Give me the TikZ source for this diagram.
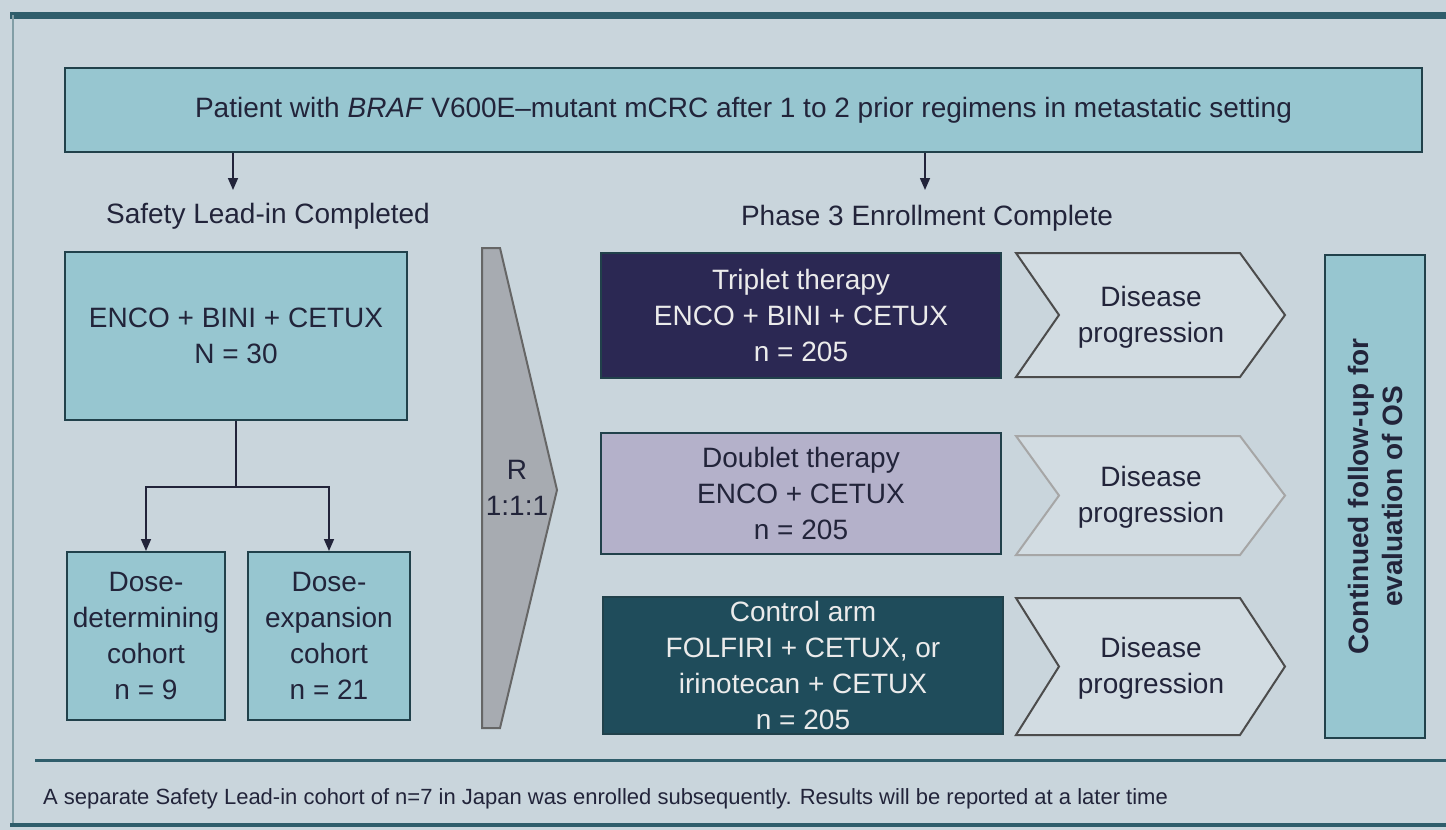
\documentclass[tikz,border=0pt]{standalone}
\usepackage{fontspec}
\setmainfont{Liberation Sans}
\usetikzlibrary{arrows.meta}

\definecolor{slidebg}{HTML}{C9D5DC}
\definecolor{framecol}{HTML}{2F5D6B}
\definecolor{tealbox}{HTML}{97C6D0}
\definecolor{tripcol}{HTML}{2B2853}
\definecolor{doubcol}{HTML}{B4B1CA}
\definecolor{ctrlcol}{HTML}{1F4C5B}
\definecolor{rcol}{HTML}{A7ABB1}
\definecolor{txtcol}{HTML}{22243A}
\definecolor{progcol}{HTML}{D2DCE2}

\tikzset{
  box/.style={draw=framecol!70!black, line width=1pt, fill=tealbox, text=txtcol,
    align=center, inner sep=2pt, font=\fontsize{14}{18}\selectfont},
  arm/.style={box, minimum width=200pt},
  lbl/.style={text=txtcol, font=\fontsize{14}{18}\selectfont, align=center},
  arr/.style={draw=txtcol, line width=0.8pt, -{Triangle[length=6pt,width=5pt]}},
  chev/.style={draw=black!70, line width=1pt, fill=progcol},
}

\begin{document}
\begin{tikzpicture}[x=0.5pt, y=-0.5pt]
    % slide background and frame
    \fill[slidebg] (0,0) rectangle (1446,830);
    \useasboundingbox (0,0) rectangle (1446,830);
    \draw[framecol, line width=3.5pt] (10,15) -- (1446,15);
    \draw[framecol!60, line width=0.8pt] (13,15) -- (13,826);
    \draw[framecol, line width=2pt] (10,825) -- (1446,825);
    \draw[framecol, line width=1.5pt] (35,760) -- (1446,760);

    % patient population
    \node[box, minimum width=678.5pt, minimum height=42pt] (top) at (743.5,110)
        {Patient with \textit{BRAF} V600E--mutant mCRC after 1 to 2 prior regimens in metastatic setting};

    \coordinate (leadarr) at (233,190);
    \coordinate (phasearr) at (925,190);
    \draw[arr] (top.south -| leadarr) -- (leadarr);
    \draw[arr] (top.south -| phasearr) -- (phasearr);
    \node[lbl] (leadlbl) at (268,216) {Safety Lead-in Completed};
    \node[lbl] (phaselbl) at (927,218) {Phase 3 Enrollment Complete};

    % safety lead-in
    \node[box, minimum width=171pt, minimum height=84pt] (enco) at (236,336)
        {ENCO + BINI + CETUX\\N = 30};
    \node[box, minimum width=79pt, minimum height=84pt, inner sep=1pt] (dosedet) at (146,636)
        {Dose-\\determining\\cohort\\n = 9};
    \node[box, minimum width=81pt, minimum height=84pt] (doseexp) at (329,636)
        {Dose-\\expansion\\cohort\\n = 21};
    \coordinate (split) at (236,487);
    \draw[draw=txtcol, line width=0.8pt] (enco.south) -- (split);
    \draw[arr] (split) -| (dosedet.north);
    \draw[arr] (split) -| (doseexp.north);

    % randomisation
    \draw[draw=black!60, line width=1pt, fill=rcol]
        (482,248) -- (500,248) -- (557,490) -- (500,728) -- (482,728) -- cycle;
    \node[lbl] (rand) at (517,488) {R\\1:1:1};

    % phase 3 arms
    \node[arm, fill=tripcol, text=white!92!black, minimum height=62.5pt] (trip) at (801,315)
        {Triplet therapy\\ENCO + BINI + CETUX\\n = 205};
    \node[arm, fill=doubcol, minimum height=60.5pt] (doub) at (801,493)
        {Doublet therapy\\ENCO + CETUX\\n = 205};
    \node[arm, fill=ctrlcol, text=white!92!black, minimum height=68.5pt] (ctrl) at (803,665)
        {Control arm\\FOLFIRI + CETUX, or\\irinotecan + CETUX\\n = 205};

    % disease progression
    \foreach \i/\ya/\yb/\bc in {1/253/377/black!70, 2/436/555/black!35, 3/598/735/black!70}{
        \draw[chev, draw=\bc] (1016,\ya) -- (1240,\ya) -- (1285,{(\ya+\yb)/2}) -- (1240,\yb)
            -- (1016,\yb) -- (1059,{(\ya+\yb)/2}) -- cycle;
        \node[lbl] (prog\i) at (1151,{(\ya+\yb)/2+2}) {Disease\\progression};
    }

    % follow-up
    \node[box, rotate=90, minimum width=241.5pt, minimum height=50pt,
        font=\fontsize{14}{17}\selectfont\bfseries] (follow) at (1375,496.5)
        {Continued follow-up for\\evaluation of OS};

    \node[text=txtcol, anchor=west, font=\fontsize{11}{13}\selectfont] (note) at (36,799)
        {A separate Safety Lead-in cohort of n=7 in Japan was enrolled subsequently. Results will be reported at a later time};
\end{tikzpicture}
\end{document}
